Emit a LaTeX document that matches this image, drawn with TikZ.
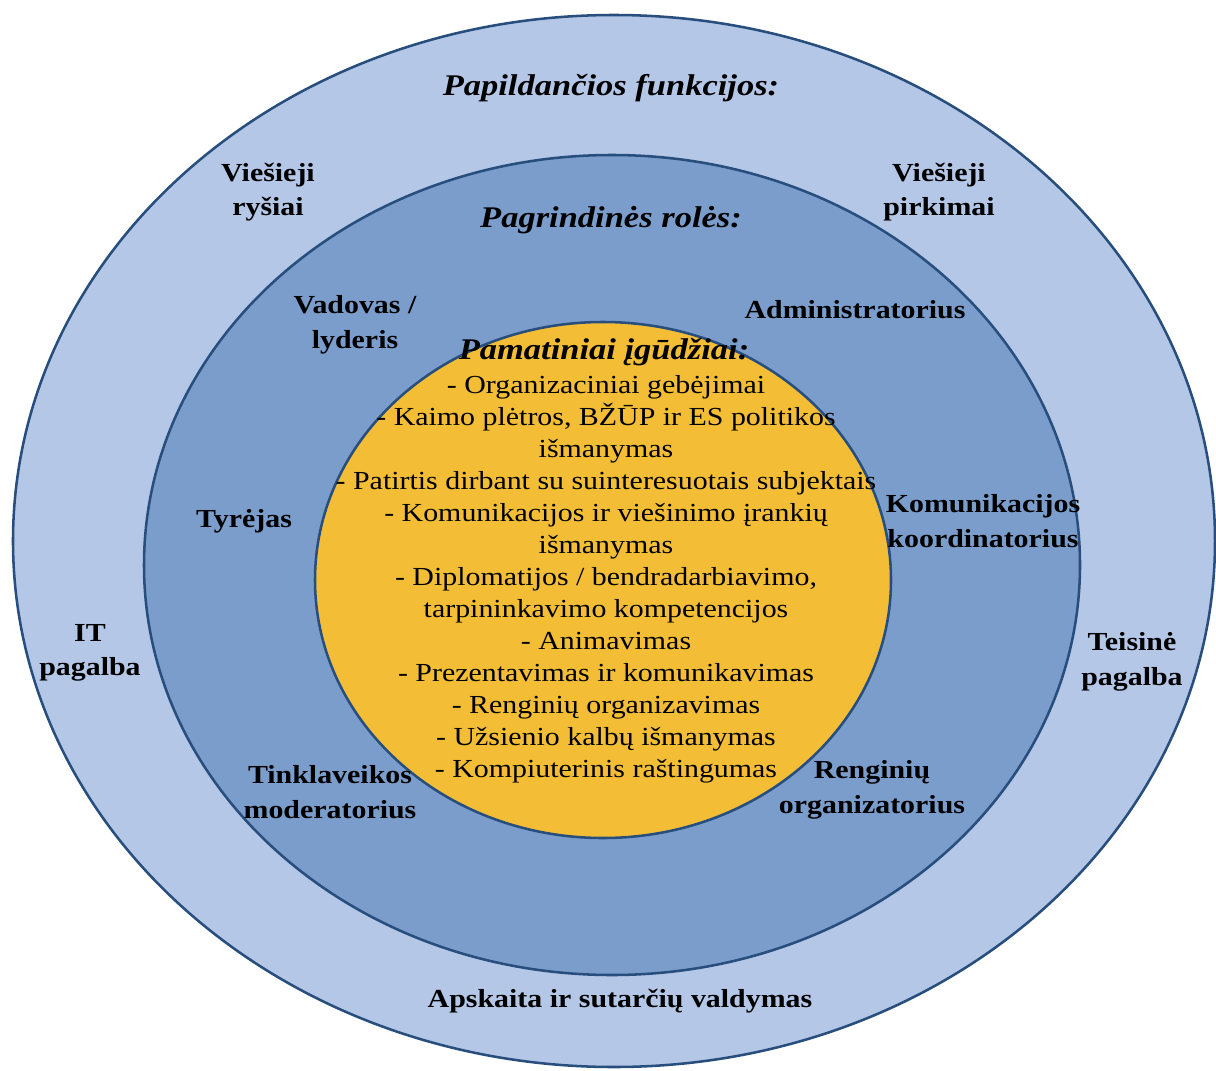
\documentclass[tikz,border=0pt]{standalone}
\usepackage{fontspec}
\setmainfont{Liberation Serif}[FakeStretch=1.15]
\definecolor{outerfill}{RGB}{180,199,231}
\definecolor{midfill}{RGB}{122,157,204}
\definecolor{innerfill}{RGB}{243,190,54}
\definecolor{edgeblue}{RGB}{40,78,125}
\begin{document}
\begin{tikzpicture}[x=0.75pt,y=-0.75pt,
  ring/.style={draw=edgeblue,line width=1.9pt},
  lbl/.style={font=\fontsize{19.5}{26}\selectfont\bfseries,align=center,inner sep=0pt},
  ttl/.style={font=\fontsize{22.5}{26}\selectfont\bfseries\itshape,align=center,inner sep=0pt},
  lst/.style={font=\fontsize{19.5}{24}\selectfont,align=center,inner sep=0pt}]
\useasboundingbox (0,0) rectangle (1216,1070);
% rings
\coordinate (co) at (614,541);
\coordinate (cm) at (612,565);
\coordinate (ci) at (603,580);
\draw[ring,fill=outerfill] (co) ellipse [x radius=601, y radius=526];
\draw[ring,fill=midfill] (cm) ellipse [x radius=468, y radius=410];
\draw[ring,fill=innerfill] (ci) ellipse [x radius=288, y radius=258];
% titles
\node[ttl] (t1) at (611,88) {Papildančios funkcijos:};
\node[ttl] (t2) at (611,220) {Pagrindinės rolės:};
\node[ttl] (t3) at (604,352) {Pamatiniai įgūdžiai:};
% outer ring labels
\node[lbl] (vr) at (268,192) {Viešieji\\ryšiai};
\node[lbl] (vp) at (939,192) {Viešieji\\pirkimai};
\node[lbl] (it) at (90,653) {IT\\pagalba};
\node[lbl] (tp) at (1132,662) {Teisinė\\pagalba};
\node[lbl] (ap) at (620,1001) {Apskaita ir sutarčių valdymas};
% middle ring labels
\node[lbl] (vl) at (355,325) {Vadovas /\\lyderis};
\node[lbl] (ad) at (855,310) {Administratorius};
\node[lbl] (ty) at (244,521) {Tyrėjas};
\node[lbl] (kk) at (983,521) {Komunikacijos\\koordinatorius};
\node[lbl] (tm) at (330,792) {Tinklaveikos\\moderatorius};
\node[lbl] (ro) at (872,790) {Renginių\\organizatorius};
% inner list
\node[lst,anchor=north] (ls) at (606,375) {- Organizaciniai gebėjimai\\
- Kaimo plėtros, BŽŪP ir ES politikos\\
išmanymas\\
- Patirtis dirbant su suinteresuotais subjektais\\
- Komunikacijos ir viešinimo įrankių\\
išmanymas\\
- Diplomatijos / bendradarbiavimo,\\
tarpininkavimo kompetencijos\\
- Animavimas\\
- Prezentavimas ir komunikavimas\\
- Renginių organizavimas\\
- Užsienio kalbų išmanymas\\
- Kompiuterinis raštingumas};
\end{tikzpicture}
\end{document}
